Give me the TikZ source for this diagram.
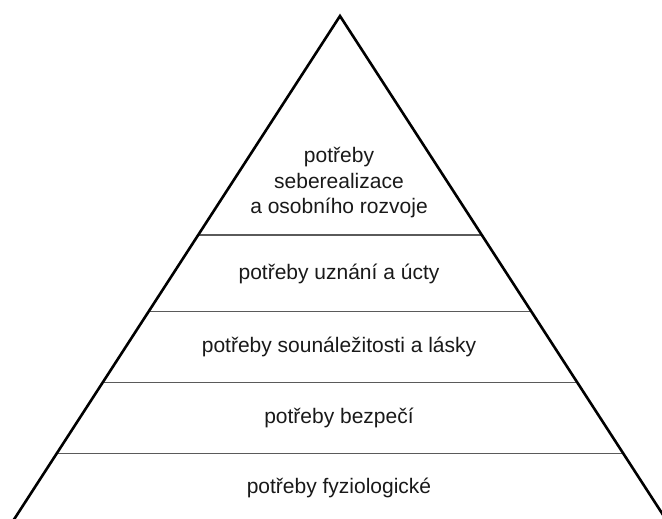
\documentclass[tikz,border=0pt]{standalone}
\usepackage{fontspec}
\setmainfont{Liberation Sans}
\definecolor{levelgray}{RGB}{90,90,90}
\tikzset{
  side/.style={draw=black, line width=2.6pt, line join=miter},
  level/.style={draw=levelgray, line width=1.8pt},
  lbl/.style={font=\fontsize{21}{25.5}\selectfont, align=center, inner sep=0pt, text=black!90}
}
\begin{document}
\begin{tikzpicture}[x=1pt,y=-1pt]
\useasboundingbox (0,0) rectangle (662,519);
\coordinate (apex) at (340,16);
\coordinate (bl) at (13,521);
\coordinate (br) at (667,521);
\foreach \n/\yy in {l1/235, l2/311.5, l3/382.5, l4/453.5}{
  \coordinate (\n a) at (intersection of apex--bl and 0,\yy--662,\yy);
  \coordinate (\n b) at (intersection of apex--br and 0,\yy--662,\yy);
  \draw[level] (\n a) -- (\n b);
}
\draw[side] (bl) -- (apex) -- (br);
\node[lbl] (t1) at (339,183) {potřeby\\seberealizace\\a osobního rozvoje};
\node[lbl] (t2) at (339,273.5) {potřeby uznání a úcty};
\node[lbl] (t3) at (339,347) {potřeby sounáležitosti a lásky};
\node[lbl] (t4) at (339,418) {potřeby bezpečí};
\node[lbl] (t5) at (339,488) {potřeby fyziologické};
\end{tikzpicture}
\end{document}
